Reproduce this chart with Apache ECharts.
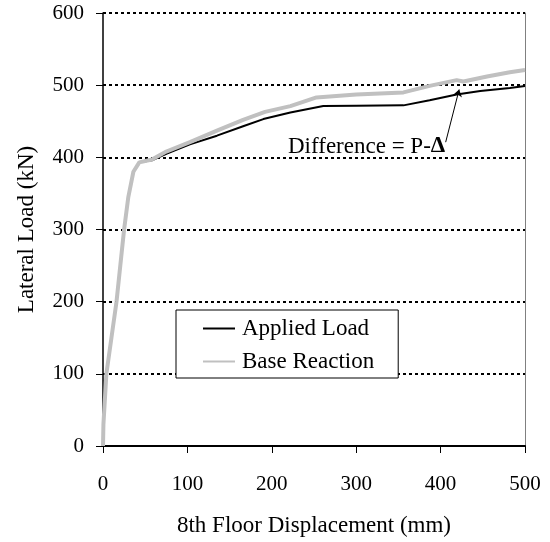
<!DOCTYPE html>
<html>
<head>
<meta charset="utf-8">
<script src="https://cdn.jsdelivr.net/npm/echarts@6/dist/echarts.min.js"></script>
<style>
  html, body { margin: 0; padding: 0; background: #fff; }
  #chart { width: 550px; height: 542px; }
</style>
</head>
<body>
<div id="chart"></div>
<script>
// Applied load (black) and base reaction (gray), [displacement mm, load kN]
const appliedLoad = [
  [0, 0], [0.5, 30], [4, 100], [10, 150], [16, 200], [20.5, 250], [25, 300],
  [30, 345], [36, 380], [43, 393], [58, 396], [75, 405], [103, 418], [135, 430],
  [166, 443], [190, 453], [222, 462], [261, 471], [300, 471.5], [356, 472],
  [387, 479], [419, 487], [447, 492], [482, 496], [500, 499]
];
const baseReaction = [
  [0, 0], [0.5, 30], [4, 100], [10, 150], [16, 200], [20.5, 250], [25, 300],
  [30, 345], [36, 380], [43, 393], [58, 397], [75, 408], [103, 421], [135, 437],
  [166, 452], [192, 463], [222, 471], [253, 483], [300, 487], [356, 490],
  [387, 499], [419, 507], [427, 505], [455, 512], [482, 518], [500, 521]
];
// arrow for the P-Delta note, in data units
const arrowFrom = [406, 421];
const arrowTo = [422, 494];

const FONT = "'Liberation Serif', 'Times New Roman', serif";

const chart = echarts.init(document.getElementById('chart'));
chart.setOption({
  animation: false,
  textStyle: { fontFamily: FONT, color: '#000' },
  grid: { left: 103, right: 25, top: 13, bottom: 93 },
  xAxis: {
    type: 'value', min: 0, max: 500, interval: 100,
    name: '8th Floor Displacement (mm)', nameLocation: 'middle', nameGap: 68,
    nameTextStyle: { fontFamily: FONT, fontSize: 23, color: '#000' },
    axisLine: { onZero: false, lineStyle: { color: '#000', width: 2 } },
    axisTick: { length: 7, lineStyle: { color: '#000', width: 1 } },
    axisLabel: { margin: 28, fontFamily: FONT, fontSize: 21, color: '#000' },
    splitLine: { show: false }
  },
  yAxis: [{
    type: 'value', min: 0, max: 600, interval: 100,
    name: 'Lateral Load (kN)', nameLocation: 'middle', nameGap: 65,
    nameTextStyle: { fontFamily: FONT, fontSize: 23, color: '#000' },
    axisLine: { show: true, lineStyle: { color: '#000', width: 1.5 } },
    axisTick: { show: true, length: 7, lineStyle: { color: '#000', width: 1 } },
    axisLabel: { margin: 19, fontFamily: FONT, fontSize: 21, color: '#000' },
    splitLine: { show: true, lineStyle: { color: '#000', width: 2, type: [3, 3] } }
  }, {
    type: 'value', min: 0, max: 600, position: 'right',
    axisLine: { show: true, lineStyle: { color: '#808080', width: 1 } },
    axisTick: { show: false }, axisLabel: { show: false }, splitLine: { show: false }
  }],
  legend: {
    orient: 'vertical', left: 176, top: 310,
    backgroundColor: '#fff',
    borderColor: '#000', borderWidth: 1,
    padding: [7, 24, 5, 26],
    itemWidth: 32, itemHeight: 14, itemGap: 10,
    itemStyle: { opacity: 0 },
    textStyle: { fontFamily: FONT, fontSize: 23, color: '#000', padding: [0, 0, 0, 2] },
    data: ['Applied Load', 'Base Reaction']
  },
  graphic: [{
    type: 'text', left: 288, top: 135, silent: true,
    style: {
      text: '{a|Difference = P-}{b|Δ}',
      rich: {
        a: { fontFamily: FONT, fontSize: 23, fill: '#000' },
        b: { fontFamily: FONT, fontSize: 23, fontWeight: 'bold', fill: '#000' }
      }
    }
  }],
  series: [{
    name: 'Applied Load', type: 'line', data: appliedLoad,
    symbol: 'none', color: '#000',
    lineStyle: { color: '#000', width: 2 },
    markLine: {
      silent: true, symbol: ['none', 'arrow'], symbolSize: 7,
      label: { show: false },
      lineStyle: { color: '#000', width: 1, type: 'solid' },
      data: [[{ coord: arrowFrom }, { coord: arrowTo }]]
    }
  }, {
    name: 'Base Reaction', type: 'line', data: baseReaction,
    symbol: 'none', color: '#c0c0c0',
    lineStyle: { color: '#c0c0c0', width: 4 }
  }]
});
window.addEventListener('resize', () => chart.resize());
</script>
</body>
</html>
